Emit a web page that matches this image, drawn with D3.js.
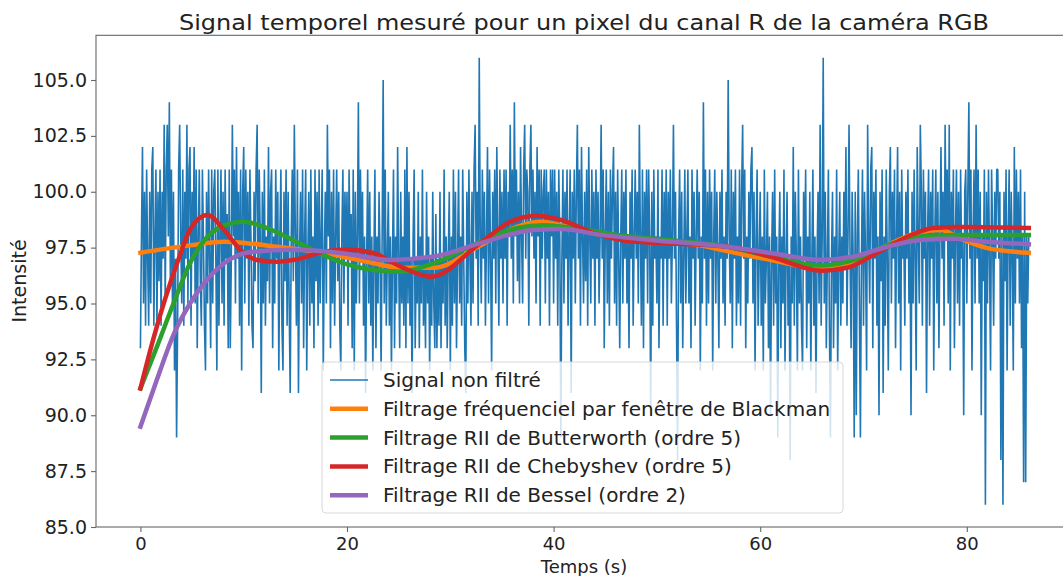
<!DOCTYPE html>
<html>
<head>
<meta charset="utf-8">
<script src="https://cdn.jsdelivr.net/npm/d3@7"></script>
<style>
  body { margin: 0; background: #fff; }
  svg text { font-family: "DejaVu Sans", sans-serif; fill: #222; }
</style>
</head>
<body>
<svg id="chart" width="1063" height="576"></svg>
<script>
// Raw red-channel intensity for one pixel, 10 samples per second (one row = 5 s).
const sampleRate = 10;
const rawSignal = [
  93,98,102,95,100,94,101,97,94,100, 95,101,102,94,98,101,94,100,96,101, 94,100,97,103,95,101,103,98,104,96, 101,95,100,92,97,89,94,101,103,98, 95,101,94,100,97,103,95,101,102,94,
  100,97,102,95,101,93,98,101,96,94, 101,98,94,92,100,95,101,97,93,101, 95,100,101,97,92,101,94,98,101,95, 100,94,101,97,99,93,101,93,97,103, 98,101,95,102,97,100,94,101,92,100,
  102,95,101,97,100,94,101,98,94,93, 100,96,101,103,95,101,98,91,100,95, 101,94,98,96,102,95,100,101,93,98, 95,101,97,100,92,98,101,94,92,100, 96,101,94,100,95,91,98,101,96,103,
  98,94,101,91,97,100,95,101,93,98, 101,92,97,100,94,101,95,98,93,101, 96,100,94,101,95,98,101,92,97,100, 95,103,98,101,93,100,95,101,94,98, 101,96,100,94,92,98,101,95,100,97,
  100,94,101,97,99,93,101,92,100,95, 98,104,95,101,97,100,94,98,91,97, 101,95,100,94,98,92,97,101,93,98, 95,100,97,92,98,105,95,101,94,97, 100,94,98,92,97,101,93,98,95,102,
  97,93,100,95,98,94,101,93,102,95, 100,94,97,91,98,101,93,97,95,100, 93,98,95,101,94,97,93,100,95,98, 92,97,94,100,95,93,99,93,97,94, 100,93,97,95,101,94,98,93,97,100,
  92,98,94,101,95,100,93,97,101,95, 98,94,101,97,93,91,100,95,101,97, 94,100,95,101,103,97,100,94,106,98, 95,101,97,100,94,98,102,95,101,97, 92,100,97,101,95,102,98,94,101,97,
  100,95,101,97,101,94,100,98,103,97, 101,95,104,98,101,96,100,95,102,98, 95,101,103,97,101,100,94,101,103,98, 101,97,100,95,102,98,101,94,101,97, 100,101,95,101,97,100,94,101,98,101,
  95,101,97,100,94,101,98,89,97,101, 95,100,97,101,94,98,101,91,100,97, 101,95,100,103,97,101,94,102,98,95, 100,96,101,94,102,98,95,101,97,100, 94,101,97,100,95,98,103,97,101,93,
  98,101,95,100,94,101,97,100,102,95, 100,94,101,97,93,98,101,95,100,97, 101,95,98,93,100,97,101,94,98,101, 97,100,95,103,98,94,101,93,100,97, 101,95,101,98,90,100,94,101,97,98,
  95,101,93,98,97,101,94,100,97,101, 94,100,97,101,95,98,103,97,100,94, 88,98,101,95,100,93,97,101,95,98, 101,95,98,93,101,97,100,94,98,101, 97,100,92,98,95,104,97,101,94,100,
  95,101,97,100,92,98,101,95,100,97, 93,100,97,101,95,98,94,100,97,105, 98,95,101,93,100,97,101,94,98,95, 101,94,100,103,97,101,93,98,95,100, 97,101,102,95,100,92,98,101,94,97,
  100,94,98,92,101,95,97,100,93,98, 90,97,100,94,101,95,98,89,97,100, 93,98,95,101,92,97,100,94,97,88, 98,95,102,94,100,97,92,101,95,98, 94,92,100,97,101,93,98,95,100,92,
  97,101,94,98,91,97,100,95,103,94, 98,106,95,100,93,97,101,94,89,97, 100,93,98,95,101,92,97,100,94,98, 95,100,97,102,94,98,103,97,93,100, 97,89,100,90,98,101,95,89,97,101,
  94,100,97,92,103,98,95,101,102,93, 100,97,101,94,98,90,100,96,101,91, 98,94,101,97,92,100,102,95,100,97, 101,93,98,102,95,100,92,101,97,98, 94,100,97,101,95,98,90,100,95,101,
  97,92,102,98,95,103,100,94,101,97, 100,91,98,101,94,100,97,101,92,98, 101,95,100,93,98,102,97,100,94,103, 98,101,95,103,92,100,97,101,93,98, 101,95,100,94,101,97,98,90,100,101,
  95,100,104,97,101,92,98,101,95,103, 97,101,95,100,90,98,96,101,86,100, 95,101,97,92,101,98,94,100,97,101, 101,97,100,88,98,86,100,96,101,92, 98,101,94,100,97,92,102,95,101,97,
  100,95,101,93,98,87,100,87,98,95, 98
];

// Filtered outputs (time in s, intensity)
const blackmanTime = [0, 4.8, 8.1, 10.3, 13.2, 17.8, 22.6, 25.2, 28.4, 32.9, 36.5, 38.7, 41.3, 44.6, 49.4, 54.2, 56.2, 61, 65.9, 69.1, 72.3, 75.5, 77.5, 79.4, 82, 86];
const blackmanValue = [97.27, 97.6, 97.76, 97.7, 97.54, 97.26, 96.8, 96.6, 96.6, 97.6, 98.44, 98.66, 98.44, 98.07, 97.84, 97.6, 97.4, 96.95, 96.57, 96.8, 97.6, 98.2, 98.29, 97.9, 97.48, 97.27];

const butterTime = [0, 1.6, 3.2, 4.8, 6.5, 8.1, 10, 11.9, 14.5, 17.1, 19.7, 22.6, 25.2, 28.4, 32.9, 36.5, 39, 41.9, 46.2, 51, 56.8, 61, 65.9, 69.1, 72.3, 75.5, 78.8, 86];
const butterValue = [91.2, 93.07, 95.0, 96.8, 98.0, 98.5, 98.66, 98.44, 97.9, 97.3, 96.8, 96.5, 96.42, 96.8, 97.76, 98.38, 98.5, 98.38, 98.07, 97.84, 97.54, 97.1, 96.7, 96.95, 97.6, 98.0, 98.07, 98.07];

const chebyTime = [0, 1.3, 3.55, 4.8, 6.5, 8.1, 9.7, 11.3, 13.2, 15.2, 17.8, 20, 22.6, 25.2, 28.1, 32.9, 35.8, 38.4, 40.7, 43.9, 47.7, 51, 56.9, 61, 65.9, 68.4, 71.3, 74.3, 76.8, 79.4, 86];
const chebyValue = [91.2, 93.5, 96.8, 98.3, 98.96, 98.29, 97.39, 96.95, 96.87, 96.98, 97.32, 97.42, 97.25, 96.65, 96.2, 97.7, 98.66, 98.93, 98.74, 98.15, 97.77, 97.7, 97.54, 97.1, 96.47, 96.6, 97.26, 98.0, 98.38, 98.42, 98.38];

const besselTime = [0, 1.6, 3.2, 4.8, 6.5, 8.1, 10.7, 14.5, 19.4, 24.2, 28.4, 32.9, 38.1, 40.7, 44.6, 49.4, 56.8, 61, 65.9, 69.1, 72.3, 75.5, 78.8, 82, 86];
const besselValue = [89.49, 91.6, 93.6, 95.0, 96.1, 96.8, 97.3, 97.4, 97.26, 96.95, 97.1, 97.7, 98.29, 98.33, 98.07, 97.84, 97.54, 97.26, 96.95, 97.1, 97.54, 97.84, 97.9, 97.76, 97.65];

const xTickValues = [0, 20, 40, 60, 80];
const yTickValues = [85, 87.5, 90, 92.5, 95, 97.5, 100, 102.5, 105];

const seriesLabels = [
  "Signal non filtré",
  "Filtrage fréquenciel par fenêtre de Blackman",
  "Filtrage RII de Butterworth (ordre 5)",
  "Filtrage RII de Chebyshev (ordre 5)",
  "Filtrage RII de Bessel (ordre 2)"
];
const seriesColors = ["#1f77b4", "#ff7f0e", "#2ca02c", "#d62728", "#9467bd"];

const svg = d3.select("#chart");
const plot = { left: 96, right: 1073.2, top: 35.3, bottom: 527 };

const x = d3.scaleLinear().domain([-4.3, 90.3]).range([plot.left, plot.right]);
const y = d3.scaleLinear().domain([85, 107]).range([plot.bottom, plot.top]);

svg.append("clipPath").attr("id", "plotClip")
  .append("rect")
  .attr("x", plot.left).attr("y", plot.top)
  .attr("width", plot.right - plot.left).attr("height", plot.bottom - plot.top);

const layer = svg.append("g").attr("clip-path", "url(#plotClip)");

// Raw signal
const signalPoints = rawSignal.map((v, i) => [i / sampleRate, v]);
layer.append("path")
  .datum(signalPoints)
  .attr("fill", "none")
  .attr("stroke", seriesColors[0])
  .attr("stroke-width", 1.6)
  .attr("stroke-linejoin", "bevel")
  .attr("d", d3.line().x(d => x(d[0])).y(d => y(d[1])));

// Filtered curves
const smooth = d3.line().curve(d3.curveMonotoneX).x(d => x(d[0])).y(d => y(d[1]));
const filtered = [
  [blackmanTime, blackmanValue],
  [butterTime, butterValue],
  [chebyTime, chebyValue],
  [besselTime, besselValue]
];
filtered.forEach(([ts, vs], k) => {
  layer.append("path")
    .datum(ts.map((t, i) => [t, vs[i]]))
    .attr("fill", "none")
    .attr("stroke", seriesColors[k + 1])
    .attr("stroke-width", 4.5)
    .attr("stroke-linecap", "square")
    .attr("d", smooth);
});

// Frame
svg.append("rect")
  .attr("x", plot.left).attr("y", plot.top)
  .attr("width", plot.right - plot.left).attr("height", plot.bottom - plot.top)
  .attr("fill", "none").attr("stroke", "#666").attr("stroke-width", 1.1);

// Axes
const yAxis = svg.append("g")
  .attr("transform", `translate(${plot.left},0)`)
  .call(d3.axisLeft(y).tickValues(yTickValues).tickFormat(d3.format(".1f")).tickSize(5).tickPadding(4));
const xAxis = svg.append("g")
  .attr("transform", `translate(0,${plot.bottom})`)
  .call(d3.axisBottom(x).tickValues(xTickValues).tickFormat(d3.format("d")).tickSize(5).tickPadding(5));
yAxis.selectAll(".tick text").attr("font-size", 19);
xAxis.selectAll(".tick text").attr("font-size", 18);
[xAxis, yAxis].forEach(g => {
  g.select(".domain").remove();
  g.selectAll(".tick line").attr("stroke", "#666").attr("stroke-width", 1.1);
  g.selectAll(".tick text").attr("font-family", "DejaVu Sans, sans-serif").attr("fill", "#222");
});

// Titles
svg.append("text")
  .attr("x", 584).attr("y", 30)
  .attr("text-anchor", "middle")
  .attr("font-size", 22)
  .attr("textLength", 810).attr("lengthAdjust", "spacingAndGlyphs")
  .text("Signal temporel mesuré pour un pixel du canal R de la caméra RGB");

svg.append("text")
  .attr("x", 584).attr("y", 573)
  .attr("text-anchor", "middle")
  .attr("font-size", 18)
  .text("Temps (s)");

svg.append("text")
  .attr("transform", "translate(26,281) rotate(-90)")
  .attr("text-anchor", "middle")
  .attr("font-size", 19)
  .text("Intensité");

// Legend
const legend = svg.append("g");
legend.append("rect")
  .attr("x", 322).attr("y", 362).attr("width", 521).attr("height", 151)
  .attr("rx", 4).attr("ry", 4)
  .attr("fill", "#fff").attr("fill-opacity", 0.8)
  .attr("stroke", "#d8d8d8").attr("stroke-width", 1);
seriesLabels.forEach((label, i) => {
  const cy = 380 + i * 28.8;
  legend.append("line")
    .attr("x1", 330).attr("x2", 368).attr("y1", cy).attr("y2", cy)
    .attr("stroke", seriesColors[i])
    .attr("stroke-width", i === 0 ? 1.5 : 4.5);
  legend.append("text")
    .attr("x", 383).attr("y", cy + 7)
    .attr("font-size", 20)
    .text(label);
});
</script>
</body>
</html>
